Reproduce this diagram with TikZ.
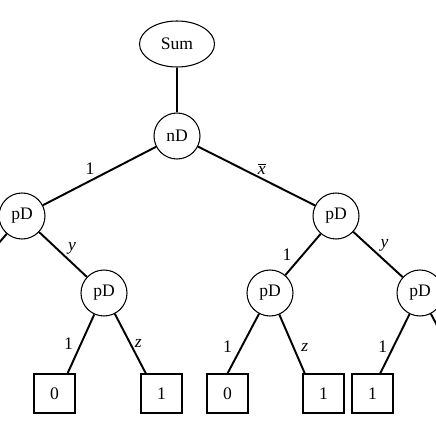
\documentclass[tikz,border=0pt]{standalone}
\usepackage{fontspec}
\setmainfont{Liberation Serif}
\usepackage{tikz}
\usetikzlibrary{positioning,shapes.geometric}

\begin{document}
\begin{tikzpicture}[
  dnode/.style={draw,circle,line width=0.6pt,minimum size=0.92cm,inner sep=0pt},
  root/.style={draw,ellipse,line width=0.6pt,minimum width=1.5cm,minimum height=0.92cm,inner sep=0pt},
  leaf/.style={draw,rectangle,line width=0.6pt,minimum width=0.82cm,minimum height=0.78cm,inner sep=0pt},
  edge/.style={line width=1.1pt},
  lbl/.style={inner sep=1pt},
  x=1cm,y=1cm]
\path[use as bounding box,clip] (0,0) rectangle (8.72,-8.72);
\node[root]  (sum)  at (3.54,-0.88) {Sum};
\node[dnode] (nd)   at (3.54,-2.72) {nD};
\node[dnode] (pdl)  at (0.44,-4.32) {pD};
\node[dnode] (pdr)  at (6.72,-4.32) {pD};
\node[dnode] (pdla) at (2.08,-5.86) {pD};
\node[dnode] (pdra) at (5.40,-5.86) {pD};
\node[dnode] (pdrb) at (8.40,-5.86) {pD};
\node[leaf]  (b1)   at (1.09,-7.87) {0};
\node[leaf]  (b2)   at (3.23,-7.87) {1};
\node[leaf]  (b3)   at (4.55,-7.87) {0};
\node[leaf]  (b4)   at (6.47,-7.87) {1};
\node[leaf]  (b5)   at (7.45,-7.87) {1};
% ends of the edges leaving the picture
\coordinate (offl) at (-0.88,-5.86);
\coordinate (offr) at (9.46,-7.88);
\draw[edge] (sum)--(nd);
\draw[edge] (nd)--(pdl) node[lbl,pos=0.52,above left=0pt] {1};
\draw[edge] (nd)--(pdr) node[lbl,pos=0.5,above right=-1pt] {$\overline{\mbox{\itshape x}}$};
\draw[edge] (pdl)--(offl);
\draw[edge] (pdl)--(pdla) node[lbl,pos=0.55,above right=0pt] {\itshape y};
\draw[edge] (pdr)--(pdra) node[lbl,pos=0.5,left=5pt] {1};
\draw[edge] (pdr)--(pdrb) node[lbl,pos=0.5,above right=0pt] {\itshape y};
\draw[edge] (pdla)--(b1.57) node[lbl,pos=0.5,left=3pt] {1};
\draw[edge] (pdla)--(b2.128) node[lbl,pos=0.5,right=1pt] {\itshape z};
\draw[edge] (pdra)--(b3.90) node[lbl,pos=0.55,left=4pt] {1};
\draw[edge] (pdra)--(b4.133) node[lbl,pos=0.55,right=3pt] {\itshape z};
\draw[edge] (pdrb)--(b5.69) node[lbl,pos=0.55,left=2pt] {1};
\draw[edge] (pdrb)--(offr);
\end{tikzpicture}
\end{document}
